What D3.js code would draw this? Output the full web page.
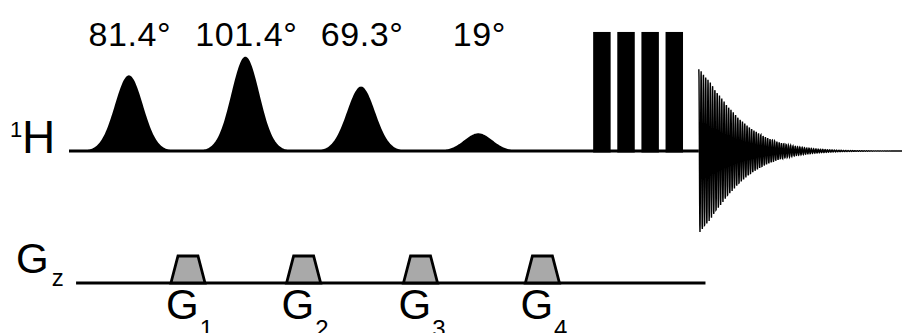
<!DOCTYPE html>
<html>
<head>
<meta charset="utf-8">
<script src="https://cdn.jsdelivr.net/npm/d3@7.9.0/dist/d3.min.js"></script>
<style>
  body { margin: 0; background: #fff; }
  svg { display: block; font-family: "Liberation Sans", Arial, sans-serif; }
</style>
</head>
<body>
<svg id="chart" width="902" height="333"></svg>
<script>
// time axis in arbitrary units, amplitudes in degrees-ish units
const pulseLabels = ['81.4°', '101.4°', '69.3°', '19°'];
const pulseCenters = [7.2, 21.2, 35.1, 49.2];
const pulseAngles = [81.4, 101.4, 69.3, 19];
const pulseSigma = 1.68;

const hardStarts = [63.0, 65.9, 68.8, 71.7];
const hardWidth = 2.1;
const hardHeight = 128;

const fidStart = 75.7;
const fidEnd = 100;
const fidAmp = 88;
const fidTau = 5.17;
const fidPeriod = 0.276;

const gradLabels = ['1', '2', '3', '4'];
const gradCenters = [14.3, 28.2, 42.25, 56.9];
const gradBase = 4.1;
const gradTop = 2.4;

const hLine = [0, fidStart];
const gLine = [0.85, 76.5];

const svg = d3.select('#chart');

let x = d3.scaleLinear().domain([0, 100]).range([69, 901]);
let y = d3.scaleLinear().domain([0, 100]).range([151, 58]);
let gy = d3.scaleLinear().domain([0, 1]).range([283, 256]);

// channel labels
svg.append('text').attr('x', 10).attr('y', 137).attr('font-size', 22).text('1');
svg.append('text').attr('x', 22).attr('y', 153).attr('font-size', 46).text('H');

let gz = svg.append('text').attr('x', 16).attr('y', 273).attr('font-size', 42);
gz.append('tspan').text('G');
gz.append('tspan').attr('dx', 3).attr('dy', 13).attr('font-size', 24).text('z');

// 1H baseline
svg.append('line')
    .attr('x1', x(hLine[0])).attr('x2', x(hLine[1]))
    .attr('y1', y(0)).attr('y2', y(0))
    .attr('stroke', '#000').attr('stroke-width', 3);

// shaped pulses
let area = d3.area()
    .x((d) => x(d[0]))
    .y0(y(0))
    .y1((d) => y(d[1]));

pulseCenters.forEach((c, i) => {
    let pts = d3.range(-3.2, 3.2001, 0.05).map((u) => {
        let t = c + u * pulseSigma;
        return [t, pulseAngles[i] * Math.exp(-u * u / 2)];
    });
    svg.append('path').attr('d', area(pts)).attr('fill', '#000');
    svg.append('text')
        .attr('x', x(c) + 1).attr('y', 46)
        .attr('font-size', 34)
        .attr('letter-spacing', 0.6)
        .attr('text-anchor', 'middle')
        .text(pulseLabels[i]);
});

// hard pulses
svg.selectAll('rect.hard')
    .data(hardStarts)
    .join('rect')
    .attr('class', 'hard')
    .attr('x', (d) => x(d))
    .attr('width', x(hardWidth) - x(0))
    .attr('y', y(hardHeight))
    .attr('height', y(0) - y(hardHeight) + 1.5)
    .attr('fill', '#000');

// FID
let fidPts = d3.range(fidStart, fidEnd + 0.5, 0.02).map((t) => {
    let dt = t - fidStart;
    let env = fidAmp * Math.exp(-Math.pow(dt / fidTau, 1.3));
    return [t, env * Math.cos(2 * Math.PI * dt / fidPeriod)];
});
svg.append('path')
    .attr('d', d3.line().x((d) => x(d[0])).y((d) => y(d[1]))(fidPts))
    .attr('fill', 'none')
    .attr('stroke', '#000')
    .attr('stroke-width', 1.4);

// Gz baseline
svg.append('line')
    .attr('x1', x(gLine[0])).attr('x2', x(gLine[1]))
    .attr('y1', gy(0)).attr('y2', gy(0))
    .attr('stroke', '#000').attr('stroke-width', 3);

// gradient lobes
gradCenters.forEach((c, i) => {
    let pts = [
        [c - gradBase / 2, 0], [c - gradTop / 2, 1],
        [c + gradTop / 2, 1], [c + gradBase / 2, 0]
    ];
    svg.append('path')
        .attr('d', d3.line().x((d) => x(d[0])).y((d) => gy(d[1]))(pts) + 'Z')
        .attr('fill', '#a9a9a9')
        .attr('stroke', '#000')
        .attr('stroke-width', 2.8)
        .attr('stroke-linejoin', 'miter');
    let t = svg.append('text')
        .attr('x', x(c) - 22).attr('y', 319)
        .attr('font-size', 42);
    t.append('tspan').text('G');
    t.append('tspan').attr('dx', 1).attr('dy', 18).attr('font-size', 24).text(gradLabels[i]);
});
</script>
</body>
</html>
